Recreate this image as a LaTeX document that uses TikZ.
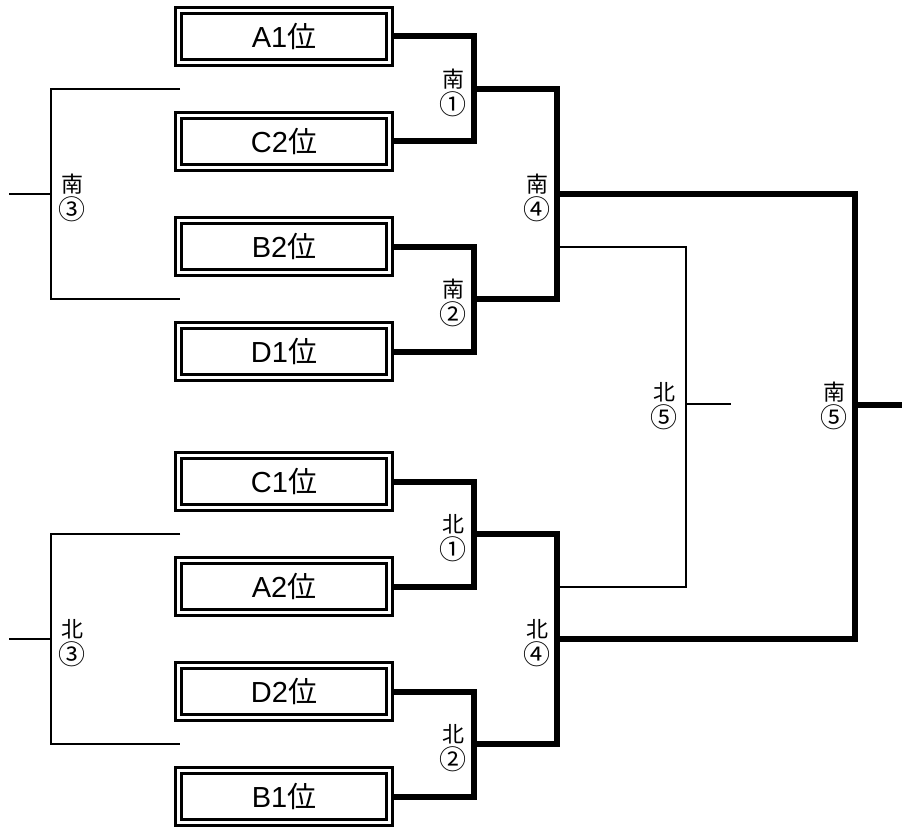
\documentclass[tikz,border=0pt]{standalone}
\usepackage{fontspec}
\setmainfont{Liberation Sans}
\newfontfamily\cjk{Noto Sans CJK JP}
\usetikzlibrary{backgrounds}
\newcommand{\cdig}[1]{{\fontsize{27}{28}\selectfont\cjk #1}}
\begin{document}
\begin{tikzpicture}[x=1pt,y=-1pt,
  team/.style={draw,line width=3.2pt,double,double distance=2.8pt,fill=white,
    minimum width=211pt,minimum height=52pt,inner sep=0pt,
    font=\fontsize{29}{30}\selectfont},
  lbl/.style={align=center,inner sep=0pt,font=\fontsize{22}{27}\selectfont\cjk},
  thk/.style={line width=6pt,line join=miter},
  thn/.style={line width=2.8pt,line join=miter}]
\useasboundingbox (0,0) rectangle (902,829);
% team boxes
\node[team] (A1) at (284,36.5) {A1{\cjk 位}};
\node[team] (C2) at (284,141.5) {C2{\cjk 位}};
\node[team] (B2) at (284,246.5) {B2{\cjk 位}};
\node[team] (D1) at (284,351.5) {D1{\cjk 位}};
\node[team] (C1) at (284,481.5) {C1{\cjk 位}};
\node[team] (A2) at (284,586.5) {A2{\cjk 位}};
\node[team] (D2) at (284,691.5) {D2{\cjk 位}};
\node[team] (B1) at (284,796.5) {B1{\cjk 位}};
% junctions
\coordinate (ms1) at (474,89);
\coordinate (ms2) at (474,299);
\coordinate (ms4) at (557,194);
\coordinate (mn1) at (474,534);
\coordinate (mn2) at (474,744);
\coordinate (mn4) at (557,639);
\coordinate (ms5) at (855,405);
\coordinate (ms5e) at (902,405);
\coordinate (t1) at (557,247);
\coordinate (t2) at (557,587);
\coordinate (mn5) at (686,404);
\coordinate (mn5e) at (731,404);
\coordinate (ls1) at (180,89);
\coordinate (ls2) at (180,299);
\coordinate (ms3) at (51,194);
\coordinate (ms3e) at (9,194);
\coordinate (ln1) at (180,534);
\coordinate (ln2) at (180,744);
\coordinate (mn3) at (51,639);
\coordinate (mn3e) at (9,639);
\begin{scope}[on background layer]
\draw[thk] (A1.east) -| (ms1) |- (C2.east);
\draw[thk] (B2.east) -| (ms2) |- (D1.east);
\draw[thk] (C1.east) -| (mn1) |- (A2.east);
\draw[thk] (D2.east) -| (mn2) |- (B1.east);
\draw[thk] (ms1) -| (ms4) |- (ms2);
\draw[thk] (mn1) -| (mn4) |- (mn2);
\draw[thk] (ms4) -| (ms5) |- (mn4);
\draw[thk] (ms5) -- (ms5e);
\draw[thn] (t1) -| (mn5) |- (t2);
\draw[thn] (mn5) -- (mn5e);
\draw[thn] (ls1) -| (ms3) |- (ls2);
\draw[thn] (ms3) -- (ms3e);
\draw[thn] (ln1) -| (mn3) |- (ln2);
\draw[thn] (mn3) -- (mn3e);
\end{scope}
% labels
\node[lbl] (Ls1) at (453,93) {南\\\cdig{①}};
\node[lbl] (Ls2) at (453,303) {南\\\cdig{②}};
\node[lbl] (Ls3) at (72,198) {南\\\cdig{③}};
\node[lbl] (Ls4) at (537,198) {南\\\cdig{④}};
\node[lbl] (Ls5) at (834,406) {南\\\cdig{⑤}};
\node[lbl] (Ln1) at (453,538) {北\\\cdig{①}};
\node[lbl] (Ln2) at (453,748) {北\\\cdig{②}};
\node[lbl] (Ln3) at (72,643) {北\\\cdig{③}};
\node[lbl] (Ln4) at (537,643) {北\\\cdig{④}};
\node[lbl] (Ln5) at (664,406) {北\\\cdig{⑤}};
\end{tikzpicture}
\end{document}
